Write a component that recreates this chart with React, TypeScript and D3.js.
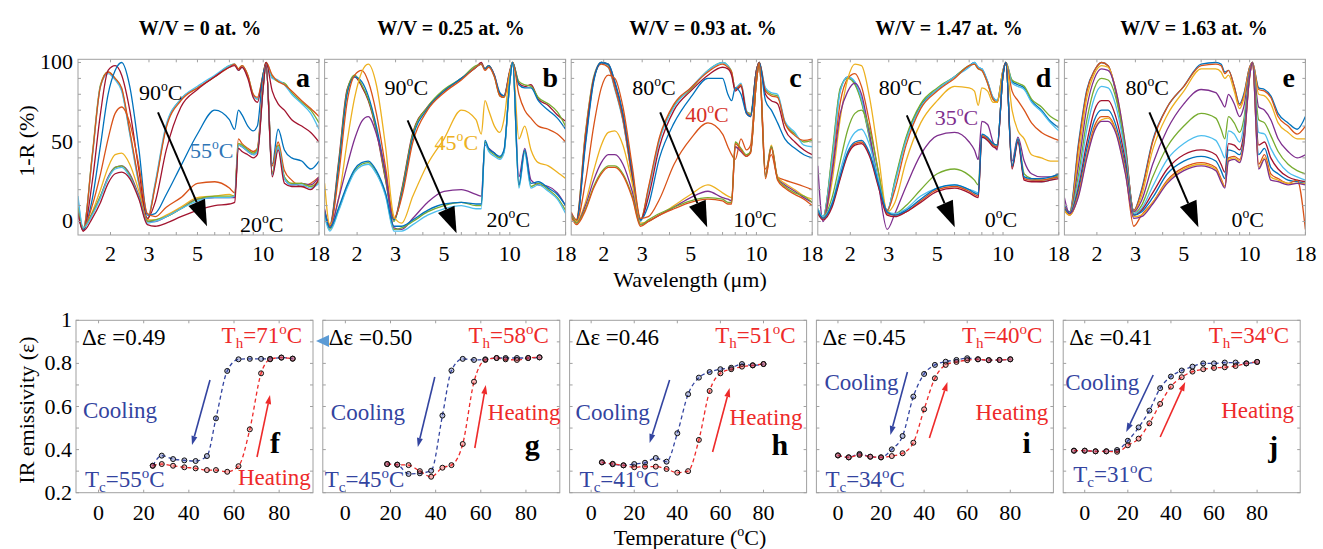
import React from 'react';
import * as d3 from 'd3';

// ---------- top row: 1-R spectra ----------
const wavelengths = [1.42, 1.5, 1.65, 1.8, 1.95, 2.1, 2.25, 2.45, 2.7, 2.95, 3.2, 3.6, 4.2, 5, 6, 7, 7.4, 7.7, 8, 8.5, 9, 9.4, 10, 10.3, 11, 11.7, 12.5, 13.5, 15, 16.5, 18];
const titles = ['W/V = 0 at. %', 'W/V = 0.25 at. %', 'W/V = 0.93 at. %', 'W/V = 1.47 at. %', 'W/V = 1.63 at. %'];
const wlTickLabels = [2, 3, 5, 10, 18];
const wlTicks = [2, 3, 4, 5, 6, 7, 8, 9, 10, 18];
const pctTickLabels = [0, 50, 100];

const M = { blue: '#0072BD', orange: '#D95319', yellow: '#EDB120', purple: '#7E2F8E', green: '#77AC30', cyan: '#4DBEEE', red: '#A2142F' };

const spectraA = [
  [8, -5, 42, 86, 94, 90, 83, 56, 24, 1, 23, 60, 77, 84, 91, 98, 99, 96, 98, 92, 80, 77, 93, 100, 91, 88, 87, 81, 75, 70, 62],
  [14, -4, 40, 85, 93, 89, 82, 55, 23, 2, 24, 61, 77, 85, 92, 98, 99, 95, 97, 91, 79, 77, 92, 99, 90, 89, 86, 80, 74, 68, 58],
  [7, -5, 41, 85, 94, 90, 84, 57, 25, 1, 22, 59, 76, 84, 91, 97, 99, 96, 98, 92, 80, 78, 93, 100, 92, 88, 86, 82, 76, 71, 66],
  [5, -6, 25, 68, 95, 98, 92, 70, 32, 2, 12, 45, 72, 83, 91, 97, 98, 95, 97, 90, 78, 75, 92, 100, 82, 74, 70, 64, 60, 56, 50],
  [6, -5, 14, 48, 80, 95, 100, 85, 45, 4, 5, 17, 35, 55, 70, 64, 58, 70, 67, 60, 57, 60, 93, 98, 36, 58, 45, 40, 38, 33, 38],
  [8, -4, 10, 30, 52, 68, 72, 62, 35, 5, 3, 9, 15, 24, 25, 21, 18, 52, 49, 46, 44, 46, 88, 99, 35, 50, 32, 26, 22, 24, 28],
  [6, -4, 6, 20, 34, 42, 43, 36, 19, 1, 1, 4, 9, 15, 16, 17, 16, 49, 48, 45, 43, 45, 86, 99, 31, 48, 28, 24, 24, 22, 26],
  [7, -4, 5, 16, 28, 34, 35, 30, 16, 0, 0, 3, 8, 14, 15, 15, 15, 48, 47, 44, 42, 44, 85, 99, 30, 47, 27, 23, 24, 23, 28],
  [9, -4, 5, 16, 27, 34, 35, 29, 15, 0, 1, 3, 8, 14, 16, 16, 16, 49, 48, 45, 43, 45, 85, 99, 30, 48, 28, 24, 24, 22, 25],
  [16, -4, 4, 15, 27, 33, 34, 28, 15, -1, 0, 3, 8, 13, 15, 15, 16, 48, 47, 44, 42, 44, 85, 99, 29, 47, 27, 23, 23, 21, 24],
  [5, -6, 2, 12, 24, 30, 31, 27, 14, -2, -3, -1, 3, 7, 10, 11, 12, 46, 44, 42, 40, 42, 84, 99, 28, 45, 24, 22, 22, 20, 27],
];
const colorsA = [M.green, M.cyan, M.orange, M.red, M.blue, M.orange, M.yellow, M.purple, M.green, M.cyan, M.red];

const spectraB = [
  [7, -2, 39, 83, 91, 85, 76, 57, 26, 1, 20, 56, 72, 82, 90, 97, 100, 96, 98, 92, 80, 79, 95, 100, 87, 85, 86, 77, 73, 67, 63],
  [6, -3, 37, 82, 92, 86, 77, 58, 27, 0, 19, 55, 72, 83, 90, 98, 99, 96, 98, 91, 79, 78, 94, 100, 88, 86, 85, 78, 74, 69, 60],
  [5, -3, 35, 80, 91, 88, 79, 60, 30, 1, 17, 53, 71, 82, 90, 97, 99, 96, 98, 92, 81, 79, 94, 100, 86, 84, 84, 76, 70, 65, 58],
  [5, -3, 30, 75, 92, 95, 88, 68, 34, 2, 15, 50, 70, 81, 89, 97, 99, 95, 97, 91, 79, 78, 94, 100, 80, 70, 65, 60, 58, 55, 50],
  [24, -2, 15, 50, 78, 94, 99, 86, 47, 3, -1, 16, 36, 52, 70, 64, 55, 76, 70, 60, 56, 64, 93, 100, 52, 60, 45, 37, 35, 31, 27],
  [8, -4, 15, 35, 52, 63, 66, 55, 30, -4, -5, 2, 12, 19, 20, 17, 16, 48, 46, 43, 40, 44, 88, 100, 28, 46, 26, 23, 22, 18, 10],
  [5, -5, 8, 22, 32, 36, 37, 31, 17, -5, -4, 0, 6, 10, 12, 10, 10, 50, 45, 42, 40, 44, 88, 100, 22, 44, 22, 24, 20, 15, 7],
  [3, -6, 7, 21, 31, 35, 36, 30, 16, -6, -6, -2, 4, 8, 10, 8, 8, 49, 44, 41, 39, 43, 88, 100, 21, 43, 21, 23, 19, 14, 5],
  [6, -4, 9, 23, 33, 37, 38, 32, 18, -3, -3, 1, 7, 11, 12, 11, 11, 51, 46, 43, 41, 45, 88, 100, 23, 45, 24, 25, 21, 17, 10],
];
const colorsB = [M.red, M.green, M.blue, M.orange, M.yellow, M.purple, M.green, M.cyan, M.blue];

const spectraC = [
  [5, 1, 56, 91, 100, 98, 84, 64, 28, 1, 20, 52, 73, 83, 95, 100, 98, 94, 83, 86, 69, 68, 95, 100, 83, 80, 79, 62, 55, 50, 51],
  [4, 0, 54, 90, 100, 97, 83, 63, 27, 0, 19, 51, 72, 84, 95, 100, 98, 93, 84, 87, 70, 66, 95, 100, 84, 81, 80, 63, 56, 48, 47],
  [6, 1, 55, 90, 99, 97, 84, 64, 28, 1, 21, 53, 74, 84, 94, 99, 97, 94, 83, 86, 69, 67, 95, 100, 82, 79, 78, 62, 54, 51, 52],
  [5, 0, 50, 89, 100, 99, 87, 67, 30, 1, 15, 47, 70, 82, 92, 97, 96, 92, 82, 85, 68, 66, 95, 100, 80, 76, 74, 58, 50, 45, 42],
  [5, 0, 48, 88, 100, 99, 88, 68, 32, 1, 10, 40, 62, 78, 90, 90, 80, 76, 84, 80, 68, 66, 94, 100, 76, 70, 62, 52, 46, 42, 40],
  [5, 0, 25, 60, 84, 92, 90, 72, 35, 2, 3, 14, 36, 52, 62, 55, 47, 42, 39, 52, 45, 48, 92, 100, 33, 42, 28, 26, 24, 22, 20],
  [5, 0, 12, 32, 48, 56, 57, 48, 24, -1, 0, 4, 10, 17, 23, 18, 16, 15, 47, 44, 41, 44, 88, 99, 30, 48, 28, 24, 20, 16, 14],
  [5, -1, 10, 26, 37, 42, 42, 36, 19, -2, 0, 4, 9, 15, 19, 15, 14, 13, 47, 44, 41, 44, 88, 99, 29, 47, 27, 23, 19, 15, 12],
  [4, -1, 8, 22, 31, 35, 35, 30, 16, -2, 1, 5, 9, 13, 15, 14, 12, 12, 50, 46, 42, 44, 88, 99, 28, 47, 27, 22, 18, 16, 12],
  [3, -2, 7, 21, 30, 34, 34, 29, 15, -3, 0, 4, 8, 12, 14, 13, 11, 11, 49, 45, 41, 43, 88, 99, 27, 46, 26, 21, 17, 14, 10],
];
const colorsC = [M.green, M.cyan, M.orange, M.red, M.blue, M.orange, M.yellow, M.purple, M.green, M.orange];

const spectraD = [
  [7, 3, 40, 83, 91, 87, 76, 53, 24, 7, 25, 52, 73, 83, 91, 98, 100, 97, 96, 88, 78, 76, 95, 100, 88, 86, 84, 76, 70, 63, 59],
  [6, 2, 42, 84, 90, 86, 75, 52, 23, 6, 26, 53, 74, 84, 91, 98, 99, 96, 95, 87, 77, 75, 94, 100, 89, 87, 85, 77, 72, 66, 63],
  [8, 3, 38, 82, 91, 88, 77, 54, 25, 7, 24, 51, 72, 83, 91, 97, 100, 97, 96, 88, 78, 76, 95, 100, 87, 85, 83, 75, 69, 62, 57],
  [7, 2, 32, 75, 90, 93, 85, 62, 30, 7, 20, 48, 71, 82, 90, 98, 99, 96, 95, 87, 77, 75, 95, 100, 82, 76, 70, 62, 56, 53, 51],
  [5, 2, 25, 65, 90, 99, 98, 78, 40, 6, 12, 38, 62, 76, 85, 84, 82, 73, 84, 82, 75, 75, 95, 100, 70, 57, 52, 42, 40, 38, 38],
  [35, 0, 30, 68, 82, 87, 80, 55, 22, -5, 5, 22, 42, 54, 56, 50, 45, 39, 63, 61, 50, 45, 93, 100, 38, 53, 38, 30, 28, 28, 30],
  [8, 3, 15, 38, 58, 68, 70, 58, 30, 5, 5, 10, 20, 30, 33, 29, 26, 23, 54, 52, 49, 48, 92, 100, 35, 52, 30, 27, 26, 27, 29],
  [8, 3, 12, 32, 48, 56, 58, 48, 25, 6, 5, 8, 16, 21, 23, 20, 19, 18, 53, 51, 48, 47, 92, 100, 34, 51, 28, 26, 25, 26, 28],
  [6, 2, 10, 28, 43, 49, 50, 42, 22, 5, 4, 6, 13, 20, 22, 19, 17, 16, 54, 52, 48, 47, 92, 100, 34, 51, 27, 26, 26, 27, 28],
  [5, 1, 9, 27, 42, 48, 49, 41, 21, 4, 3, 6, 12, 19, 21, 18, 16, 15, 53, 51, 47, 46, 92, 100, 33, 50, 26, 25, 25, 26, 27],
  [7, 2, 11, 29, 44, 50, 51, 43, 23, 6, 4, 7, 14, 21, 23, 20, 18, 17, 55, 53, 49, 48, 92, 100, 35, 52, 28, 27, 27, 28, 30],
];
const colorsD = [M.blue, M.green, M.cyan, M.orange, M.yellow, M.purple, M.green, M.cyan, M.orange, M.red, M.blue];

const spectraE = [
  [10, 6, 50, 83, 95, 100, 98, 80, 45, 7, 20, 51, 72, 85, 99, 100, 99, 94, 95, 85, 74, 80, 97, 100, 84, 83, 79, 68, 62, 58, 66],
  [9, 5, 48, 82, 95, 100, 98, 81, 46, 7, 19, 50, 72, 85, 98, 99, 98, 93, 95, 85, 73, 79, 97, 100, 83, 82, 78, 66, 60, 55, 60],
  [8, 5, 42, 78, 93, 98, 97, 82, 48, 6, 16, 45, 67, 82, 96, 96, 94, 90, 92, 82, 71, 77, 96, 100, 80, 79, 74, 62, 56, 52, 52],
  [8, 5, 36, 72, 90, 96, 95, 82, 48, 6, 13, 36, 58, 74, 83, 81, 76, 72, 80, 74, 66, 72, 95, 100, 72, 70, 64, 52, 44, 40, 42],
  [8, 5, 30, 64, 84, 90, 89, 77, 45, 5, 10, 28, 47, 60, 68, 65, 58, 52, 66, 62, 56, 64, 94, 100, 64, 62, 54, 44, 36, 32, 30],
  [8, 5, 26, 58, 78, 85, 84, 72, 42, 5, 8, 22, 39, 49, 54, 51, 45, 40, 57, 55, 50, 60, 93, 100, 56, 55, 46, 38, 31, 28, 26],
  [8, 5, 22, 50, 70, 76, 76, 65, 38, 4, 7, 18, 33, 42, 45, 42, 36, 31, 49, 48, 45, 55, 92, 100, 48, 50, 40, 33, 28, 26, 25],
  [8, 5, 20, 46, 64, 70, 70, 60, 35, 4, 6, 15, 30, 38, 41, 38, 32, 27, 45, 44, 42, 52, 92, 100, 42, 46, 34, 30, 26, 25, 24],
  [7, 4, 18, 42, 60, 66, 66, 57, 32, -3, 4, 12, 26, 34, 37, 34, 27, 22, 40, 41, 39, 50, 91, 100, 36, 42, 30, 27, 24, 26, -5],
  [7, 4, 17, 41, 58, 64, 65, 56, 31, 3, 4, 12, 25, 33, 36, 33, 26, 22, 39, 40, 38, 49, 91, 100, 34, 40, 28, 26, 24, 24, 24],
  [15, 5, 16, 40, 57, 63, 63, 55, 30, 2, 3, 11, 24, 32, 35, 32, 25, 21, 38, 39, 37, 48, 91, 100, 33, 39, 26, 25, 23, 24, 23],
];
const colorsE = [M.blue, M.orange, M.yellow, M.purple, M.green, M.cyan, M.red, M.blue, M.orange, M.yellow, M.purple];

const spectra = [spectraA, spectraB, spectraC, spectraD, spectraE];
const spectraColors = [colorsA, colorsB, colorsC, colorsD, colorsE];

const hotLabels = ['90', '90', '80', '80', '80'];
const coldLabels = ['20', '20', '10', '0', '0'];
const midLabels = ['55', '45', '40', '35', ''];
const midColors = ['#2E75B6', '#EDB120', '#D62F28', '#7E2F8E', '#000'];
const topLetters = ['a', 'b', 'c', 'd', 'e'];

// ---------- bottom row: emissivity hysteresis ----------
const tempsF = [24, 28, 33, 38, 43, 48, 52, 57, 62, 67, 72, 76, 81, 86];
const coolF = [0.325, 0.372, 0.356, 0.35, 0.347, 0.37, 0.545, 0.765, 0.819, 0.821, 0.821, 0.821, 0.827, 0.822];
const heatF = [0.325, 0.333, 0.325, 0.318, 0.313, 0.305, 0.305, 0.297, 0.323, 0.494, 0.754, 0.819, 0.827, 0.822];

const tempsG = [18.5, 23, 28, 33, 38, 43, 47, 52, 57, 62, 67, 71, 76, 81, 86];
const coolG = [0.333, 0.33, 0.287, 0.29, 0.302, 0.558, 0.767, 0.821, 0.816, 0.819, 0.825, 0.825, 0.825, 0.825, 0.828];
const heatG = [0.333, 0.33, 0.328, 0.3, 0.274, 0.316, 0.328, 0.426, 0.715, 0.816, 0.825, 0.819, 0.816, 0.825, 0.828];

const tempsH = [5, 10, 15, 20, 25, 30, 35, 40, 45, 50, 55, 60, 65, 70, 75, 80];
const coolH = [0.341, 0.332, 0.327, 0.333, 0.339, 0.361, 0.344, 0.476, 0.657, 0.734, 0.76, 0.773, 0.78, 0.797, 0.791, 0.797];
const heatH = [0.341, 0.334, 0.327, 0.318, 0.321, 0.321, 0.31, 0.293, 0.3, 0.445, 0.672, 0.754, 0.773, 0.785, 0.791, 0.797];

const tempsI = [0, 5, 10, 15, 20, 25, 30, 35, 40, 45, 50, 55, 60, 65, 70, 75, 80];
const coolI = [0.373, 0.364, 0.38, 0.367, 0.364, 0.401, 0.463, 0.646, 0.751, 0.793, 0.808, 0.816, 0.824, 0.819, 0.815, 0.816, 0.819];
const heatI = [0.373, 0.364, 0.375, 0.367, 0.364, 0.37, 0.383, 0.432, 0.587, 0.731, 0.793, 0.807, 0.815, 0.819, 0.815, 0.816, 0.819];

const tempsJ = [-5, 0, 5, 10, 15, 20, 25, 30, 35, 40, 45, 50, 55, 60, 65, 70, 75, 80];
const coolJ = [0.395, 0.395, 0.392, 0.392, 0.398, 0.441, 0.503, 0.581, 0.685, 0.739, 0.767, 0.785, 0.8, 0.8, 0.804, 0.804, 0.8, 0.807];
const heatJ = [0.395, 0.395, 0.392, 0.392, 0.39, 0.42, 0.451, 0.522, 0.612, 0.692, 0.736, 0.762, 0.773, 0.779, 0.782, 0.788, 0.8, 0.807];

const temps = [tempsF, tempsG, tempsH, tempsI, tempsJ];
const cooling = [coolF, coolG, coolH, coolI, coolJ];
const heating = [heatF, heatG, heatH, heatI, heatJ];
const tempMax = [95, 95, 100, 100, 100];

const deltaEps = ['0.49', '0.50', '0.46', '0.45', '0.41'];
const thLabels = ['71', '58', '51', '40', '34'];
const tcLabels = ['55', '45', '41', '34', '31'];
const bottomLetters = ['f', 'g', 'h', 'i', 'j'];
const tempTicks = [0, 20, 40, 60, 80];
const epsTicks = [0.2, 0.4, 0.6, 0.8, 1];
const epsMinor = [0.2, 0.3, 0.4, 0.5, 0.6, 0.7, 0.8, 0.9, 1];

// ---------- layout ----------
const TOP = { y: 59.3, h: 175.7, w: 241, pitch: 246.6, x0: 78 };
const BOT = { y: 320.3, h: 172.4, w: 237, pitch: 246.8, x0: 76 };
const titleX = [200, 451, 703, 949, 1194];
const FONT = '"Liberation Serif", "DejaVu Serif", serif';
const BLUE_TXT = '#3344A0';
const RED_TXT = '#EE2A2A';
const BOX = '#A0A0A0';
const AF = 23;

// per-panel annotation placements (relative to panel left, absolute baseline y)
const coolingPos = [[7, 418], [8, 420], [6, 420], [8, 390], [2, 390]];
const heatingPos = [[162, 485], [165, 420], [160, 425], [159, 420], [158, 418]];
const tcPos = [[9, 487], [2, 487], [10, 487], [9, 487], [10, 482]];
const letterPos = [[194, 453], [202, 455], [202, 455], [206, 453], [205, 457]];
const blueArrow = [[134, 380, 116, 445], [112, 377, 95, 447], [100, 380, 80, 443], [91, 372, 74, 435], [90, 375, 63, 432]];
const redArrow = [[181, 457, 194, 395], [152, 448, 163, 385], [143, 452, 160, 388], [113, 438, 131, 382], [97, 437, 122, 382]];
const midPos = [[112, 99], [110, 91], [114, 63], [117, 66], [0, 0]];
const bigArrow = [[80, 53, 129, 167], [83, 61, 132, 174], [89, 53, 136, 168], [89, 56, 137, 168], [85, 53, 134, 168]];

function Deg({ x, y, num, fill = '#000', size = 22, anchor = 'start' }: any) {
  return (
    <text x={x} y={y} fill={fill} fontSize={size} fontFamily={FONT} textAnchor={anchor}>
      {num}
      <tspan dy={-size * 0.42} fontSize={size * 0.62}>o</tspan>
      <tspan dy={size * 0.42}>C</tspan>
    </text>
  );
}

function Arrow({ x1, y1, x2, y2, color, width, head, headW }: any) {
  const a = Math.atan2(y2 - y1, x2 - x1);
  const bx = x2 - head * Math.cos(a);
  const by = y2 - head * Math.sin(a);
  const px = -Math.sin(a) * headW / 2;
  const py = Math.cos(a) * headW / 2;
  return (
    <g>
      <line x1={x1} y1={y1} x2={bx} y2={by} stroke={color} strokeWidth={width} />
      <path d={`M${x2},${y2}L${bx + px},${by + py}L${bx - px},${by - py}Z`} fill={color} />
    </g>
  );
}

function TopPanel({ i }: { i: number }) {
  const left = TOP.x0 + TOP.pitch * i;
  const x = d3.scaleLog().domain([1.42, 18]).range([left, left + TOP.w]);
  const y = d3.scaleLinear().domain([-8.5, 102]).range([TOP.y + TOP.h, TOP.y]);
  const line = d3.line<number>().x((_, k) => x(wavelengths[k])).y((v) => y(v)).curve(d3.curveMonotoneX);
  const bottom = TOP.y + TOP.h;
  const [ax1, ay1, ax2, ay2] = bigArrow[i];
  return (
    <g>
      <defs>
        <clipPath id={`tclip${i}`}>
          <rect x={left} y={TOP.y} width={TOP.w} height={TOP.h} />
        </clipPath>
      </defs>
      <rect x={left} y={TOP.y} width={TOP.w} height={TOP.h} fill="#fff" stroke="none" />
      <g clipPath={`url(#tclip${i})`}>
        {spectra[i].map((vals, k) => (
          <path key={k} d={line(vals) || ''} fill="none" stroke={spectraColors[i][k]} strokeWidth={1.3} />
        ))}
      </g>
      {wlTicks.map((t) => (
        <g key={t}>
          <line x1={x(t)} x2={x(t)} y1={bottom} y2={bottom - 3} stroke={BOX} />
          <line x1={x(t)} x2={x(t)} y1={TOP.y} y2={TOP.y + 3} stroke={BOX} />
        </g>
      ))}
      {d3.range(0, 101, 10).map((t) => (
        <g key={t}>
          <line x1={left} x2={left + 3} y1={y(t)} y2={y(t)} stroke={BOX} />
          <line x1={left + TOP.w} x2={left + TOP.w - 3} y1={y(t)} y2={y(t)} stroke={BOX} />
        </g>
      ))}
      <rect x={left} y={TOP.y} width={TOP.w} height={TOP.h} fill="none" stroke={BOX} strokeWidth={1} />
      {wlTickLabels.map((t) => (
        <text key={t} x={x(t)} y={261} fontSize={22} fontFamily={FONT} textAnchor="middle">{t}</text>
      ))}
      {i === 0 && pctTickLabels.map((t) => (
        <text key={t} x={left - 5} y={y(t) + 7} fontSize={22} fontFamily={FONT} textAnchor="end">{t}</text>
      ))}
      <text x={titleX[i]} y={35} fontSize={20} fontWeight="bold" fontFamily={FONT} textAnchor="middle">{titles[i]}</text>
      <Deg x={left + (i === 1 ? 60 : 61)} y={i === 0 ? 100 : 95} num={hotLabels[i]} />
      {midLabels[i] && <Deg x={left + midPos[i][0]} y={TOP.y + midPos[i][1]} num={midLabels[i]} fill={midColors[i]} />}
      <Deg x={left + (i >= 3 ? 167 : 162)} y={i === 0 ? 232 : 227} num={coldLabels[i]} />
      <Arrow x1={left + ax1} y1={TOP.y + ay1} x2={left + ax2} y2={TOP.y + ay2} color="#000" width={2} head={26} headW={18} />
      <text x={left + 218} y={87} fontSize={28} fontWeight="bold" fontFamily={FONT}>{topLetters[i]}</text>
    </g>
  );
}

function BottomPanel({ i }: { i: number }) {
  const left = BOT.x0 + BOT.pitch * i;
  const x = d3.scaleLinear().domain([-10, tempMax[i]]).range([left, left + BOT.w]);
  const y = d3.scaleLinear().domain([0.2, 1]).range([BOT.y + BOT.h, BOT.y]);
  const line = d3.line<number>().x((_, k) => x(temps[i][k])).y((v) => y(v)).curve(d3.curveMonotoneX);
  const bottom = BOT.y + BOT.h;
  const [bx1, by1, bx2, by2] = blueArrow[i];
  const [rx1, ry1, rx2, ry2] = redArrow[i];
  return (
    <g>
      <rect x={left} y={BOT.y} width={BOT.w} height={BOT.h} fill="#fff" stroke={BOX} />
      {tempTicks.map((t) => (
        <g key={t}>
          <line x1={x(t)} x2={x(t)} y1={bottom} y2={bottom - 3} stroke={BOX} />
          <line x1={x(t)} x2={x(t)} y1={BOT.y} y2={BOT.y + 3} stroke={BOX} />
          <text x={x(t)} y={520} fontSize={22} fontFamily={FONT} textAnchor="middle">{t}</text>
        </g>
      ))}
      {epsMinor.map((t) => (
        <g key={t}>
          <line x1={left} x2={left + 3} y1={y(t)} y2={y(t)} stroke={BOX} />
          <line x1={left + BOT.w} x2={left + BOT.w - 3} y1={y(t)} y2={y(t)} stroke={BOX} />
        </g>
      ))}
      {i === 0 && epsTicks.map((t) => (
        <text key={t} x={left - 4} y={y(t) + 7} fontSize={22} fontFamily={FONT} textAnchor="end">{t}</text>
      ))}
      <path d={line(cooling[i]) || ''} fill="none" stroke={BLUE_TXT} strokeWidth={1.3} strokeDasharray="4,3" />
      <path d={line(heating[i]) || ''} fill="none" stroke={RED_TXT} strokeWidth={1.3} strokeDasharray="4,3" />
      {cooling[i].map((v, k) => (
        <circle key={'c' + k} cx={x(temps[i][k])} cy={y(v)} r={2.5} fill={BLUE_TXT} fillOpacity={0.35} stroke="#111" strokeWidth={1} />
      ))}
      {heating[i].map((v, k) => (
        <circle key={'h' + k} cx={x(temps[i][k])} cy={y(v)} r={2.5} fill={RED_TXT} fillOpacity={0.35} stroke="#111" strokeWidth={1} />
      ))}
      <text x={left + 6} y={345} fontSize={AF} fontFamily={FONT}>Δε =<tspan>{deltaEps[i]}</tspan></text>
      <text x={left + 226} y={343} fontSize={AF} fontFamily={FONT} fill={RED_TXT} textAnchor="end">
        T<tspan dy={5} fontSize={15}>h</tspan><tspan dy={-5}>={thLabels[i]}</tspan>
        <tspan dy={-9} fontSize={15}>o</tspan><tspan dy={9}>C</tspan>
      </text>
      <text x={left + coolingPos[i][0]} y={coolingPos[i][1]} fontSize={AF} fontFamily={FONT} fill={BLUE_TXT}>Cooling</text>
      <text x={left + heatingPos[i][0]} y={heatingPos[i][1]} fontSize={AF} fontFamily={FONT} fill={RED_TXT}>Heating</text>
      <text x={left + tcPos[i][0]} y={tcPos[i][1]} fontSize={AF} fontFamily={FONT} fill={BLUE_TXT}>
        T<tspan dy={5} fontSize={15}>c</tspan><tspan dy={-5}>={tcLabels[i]}</tspan>
        <tspan dy={-9} fontSize={15}>o</tspan><tspan dy={9}>C</tspan>
      </text>
      <text x={left + letterPos[i][0]} y={letterPos[i][1]} fontSize={30} fontWeight="bold" fontFamily={FONT}>{bottomLetters[i]}</text>
      <Arrow x1={left + bx1} y1={by1} x2={left + bx2} y2={by2} color={BLUE_TXT} width={1.6} head={9} headW={6} />
      <Arrow x1={left + rx1} y1={ry1} x2={left + rx2} y2={ry2} color={RED_TXT} width={1.6} head={9} headW={6} />
    </g>
  );
}

export default function App() {
  return (
    <svg width={1323} height={549} style={{ position: 'absolute', left: 0, top: 0, background: '#fff' }}>
      <rect width={1323} height={549} fill="#fff" />
      {d3.range(5).map((i) => <TopPanel key={'t' + i} i={i} />)}
      {d3.range(5).map((i) => <BottomPanel key={'b' + i} i={i} />)}
      <text transform="translate(34,141) rotate(-90)" fontSize={22} fontFamily={FONT} textAnchor="middle">1-R (%)</text>
      <text transform="translate(34,410) rotate(-90)" fontSize={22} fontFamily={FONT} textAnchor="middle">IR emissivity (ε)</text>
      <text x={690} y={287} fontSize={22} fontFamily={FONT} textAnchor="middle">Wavelength (μm)</text>
      <text x={690} y={545} fontSize={22} fontFamily={FONT} textAnchor="middle">
        Temperature (<tspan dy={-9} fontSize={14}>o</tspan><tspan dy={9}>C)</tspan>
      </text>
      <path d="M316,341L329,335L329,347Z" fill="#5B9BD5" />
    </svg>
  );
}
